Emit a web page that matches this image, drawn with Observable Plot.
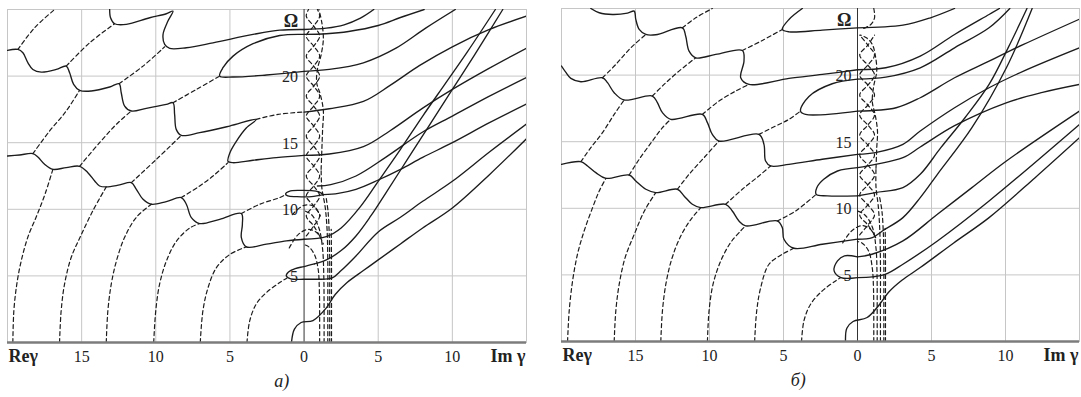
<!DOCTYPE html>
<html><head><meta charset="utf-8">
<script src="https://cdn.jsdelivr.net/npm/d3@7"></script>
<script src="https://cdn.jsdelivr.net/npm/@observablehq/plot@0.6"></script>
<style>
body{margin:0;background:#fff;}
#wrap{display:flex;width:1081px;height:397px;overflow:hidden;}
#wrap svg{display:block;}
#wrap svg text{font-family:"Liberation Serif","DejaVu Serif",serif !important;}
</style></head><body><div id="wrap"></div>
<script>
// ---------- axes ----------
const xGrid = [-15, -10, -5, 5, 10];
const yGrid = [5, 10, 15, 20];
const xTicks = [-15, -10, -5, 0, 5, 10];
const xTickLabels = ["15", "10", "5", "0", "5", "10"];
const yTicks = [5, 10, 15, 20];

// ---------- panel a : solid ----------
const a_stairA = [[-20,14.0],[-19.19,14.08],[-18.29,14.18],[-17.95,13.93],[-17.5,13.38],[-16.94,13.0],[-16.04,13.13],[-15.14,13.23],[-14.58,12.75],[-14.12,12.13],[-13.79,11.75],[-13.34,11.68],[-12.44,11.83],[-11.65,12.0],[-11.31,11.5],[-10.86,10.75],[-10.3,10.38],[-9.29,10.58],[-8.28,10.88],[-7.94,10.38],[-7.6,9.38],[-7.04,8.93],[-5.69,9.25],[-4.23,9.68],[-4.16,8.88],[-4.23,7.88],[-3.89,7.18],[-2.54,7.38],[-1.19,7.63],[0,7.75]];
const a_stair1 = [[-20,21.93],[-19.3,22.0],[-18.96,21.75],[-18.62,21.0],[-18.29,20.5],[-17.72,20.3],[-16.71,20.5],[-16.04,20.75],[-15.81,20.25],[-15.54,19.38],[-15.14,18.93],[-14.35,18.88],[-13.11,19.18],[-12.48,19.43],[-12.33,18.75],[-12.1,17.75],[-11.65,17.38],[-10.64,17.58],[-9.29,17.88],[-8.84,18.0],[-8.73,17.13],[-8.62,16.0],[-8.28,15.55],[-7.04,15.75],[-5.02,16.25],[-3.22,16.75],[-3.9,16.1],[-4.57,15.1],[-5.0,14.25],[-5.13,13.6],[-4.8,13.5],[-3.44,13.68],[-1.87,13.88],[0,14.05]];
const a_stair0 = [[-13.11,25],[-13.05,24.38],[-12.78,23.93],[-11.99,23.88],[-10.41,24.38],[-9.29,24.68],[-8.84,24.88],[-9.18,24.13],[-9.51,23.13],[-9.4,22.38],[-9.06,22.08],[-7.94,22.13],[-6.14,22.5],[-3.44,23.13],[-1.64,23.45],[0,23.5]];
const a_loop20 = [[0,23.13],[-1.64,23.05],[-3.44,22.43],[-4.79,21.5],[-5.47,20.63],[-5.69,20.0],[-4.79,19.93],[-2.54,20.08],[0,20.35]];
const a_loop10 = [[1.3,11.1],[1.0,11.3],[0.5,11.4],[-0.3,11.42],[-1.0,11.35],[-1.25,11.15],[-1.1,11.0],[-0.5,10.95],[0.5,10.95],[1.3,11.1]];
const a_loop5 = [[0.7,5.9],[0,5.7],[-0.6,5.55],[-1.05,5.3],[-1.2,5.0],[-0.9,4.78],[0,4.75],[1.0,4.75]];
const a_R1 = [[0,23.5],[1.5,23.6],[2.7,23.85],[3.8,24.35],[4.7,25]];
const a_R2 = [[0,23.13],[1.5,23.18],[3,23.35],[5,23.8],[6.5,24.4],[8.1,25]];
const a_R3 = [[0,20.35],[1.7,20.5],[4,21.0],[6.2,22.1],[8.2,23.6],[10.2,25]];
const a_R4 = [[0,17.3],[1.7,17.55],[4,18.1],[5.8,19.3],[7.8,20.8],[10,22.2],[12.5,23.5],[15,24.5]];
const a_R5 = [[0,14.05],[1.7,14.15],[4,14.7],[5.8,15.9],[8,17.6],[10,19.0],[12.5,20.6],[15,22.1]];
const a_R6 = [[0.9,11.75],[1.8,11.85],[3.5,12.5],[5.5,13.9],[8,15.8],[10,17.0],[12.5,18.5],[15,19.9]];
const a_R7 = [[1.3,11.1],[2.3,11.2],[3.5,11.5],[5,12.2],[6.5,13.0],[8,13.9],[10,15.0],[12.5,16.5],[15,17.9]];
const a_S1 = [[0,7.75],[1.5,7.95],[2.5,8.6],[3.8,10.2],[5,12.1],[6.5,14.5],[8,17.0],[9.5,19.4],[11,21.8],[12.9,25]];
const a_S2 = [[0.7,5.9],[1.5,6.2],[2.5,6.9],[3.5,8.0],[4.5,9.5],[5.5,11.2],[7,13.8],[8.5,16.4],[10,19.0],[11.5,21.6],[13.4,25]];
const a_R8 = [[1.0,4.75],[1.9,4.85],[2.5,5.4],[3.5,6.5],[5,8.3],[6.5,9.4],[8,10.6],[10,12.1],[12.5,14.3],[15,16.4]];
const a_R9 = [[-0.85,0],[-0.65,1.0],[-0.2,1.5],[0.6,1.65],[1.5,2.6],[2.1,3.6],[2.9,4.5],[4,5.4],[5,6.2],[6.5,7.4],[8,8.6],[10,10.1],[12.5,12.6],[15,15.3]];

// ---------- panel a : dashed ----------
const a_arc1 = [[-19.64,0],[-19.57,2.4],[-19.37,4.4],[-19.08,6.1],[-18.63,7.9],[-18.0,9.6],[-17.45,11.2],[-16.94,13.0]];
const a_arc2 = [[-16.49,0],[-16.38,2.4],[-16.15,4.4],[-15.7,6.4],[-15.02,8.1],[-14.24,9.9],[-13.34,11.68]];
const a_arc3 = [[-13.34,0],[-13.23,2.4],[-13.0,4.4],[-12.66,6.1],[-12.1,7.9],[-11.31,9.4],[-10.3,10.38]];
const a_arc4 = [[-10.14,0],[-10.0,2.4],[-9.74,4.4],[-9.29,6.1],[-8.61,7.6],[-7.71,8.6],[-7.04,8.93]];
const a_arc5 = [[-7.0,0],[-6.82,2.4],[-6.48,4.1],[-5.92,5.6],[-5.02,6.6],[-3.89,7.18]];
const a_arc6 = [[-3.85,0],[-3.67,1.6],[-3.22,2.9],[-2.54,3.75],[-1.64,4.5],[-1.15,4.85]];
const a_mid1 = [[-18.29,14.18],[-17.16,15.88],[-16.04,17.38],[-15.14,18.93]];
const a_mid2 = [[-15.14,13.23],[-13.79,15.0],[-12.66,16.38],[-11.65,17.38]];
const a_mid3 = [[-11.65,12.0],[-9.96,13.75],[-8.28,15.55]];
const a_mid4 = [[-8.28,10.88],[-7.04,11.75],[-6.14,12.5],[-5.13,13.5]];
const a_mid5 = [[-4.23,9.68],[-2.99,10.38],[-1.64,10.88],[-1.25,11.1]];
const a_up0 = [[-19.3,22.0],[-18.17,23.63],[-16.82,25]];
const a_up1 = [[-16.04,20.75],[-14.46,22.5],[-12.78,23.93]];
const a_up2 = [[-12.48,19.43],[-10.86,20.75],[-9.4,22.2]];
const a_up3 = [[-8.84,18.0],[-7.26,19.0],[-5.69,20.0]];
const a_up4 = [[-3.22,16.75],[-1.75,17.13],[0,17.3]];
const a_col1 = [[1.05,0],[1.05,2],[1.03,4],[0.95,5.5],[0.7,6.6],[0.3,7.2],[0,7.35]];
const a_col2 = [[1.35,0],[1.35,2.5],[1.33,5],[1.25,7],[1.0,8.6],[0.5,9.6],[0,9.9]];
const a_col3 = [[1.6,0],[1.6,3],[1.6,6],[1.55,8.5],[1.42,10.2],[1.2,11.6],[1.15,13]];
const a_col4 = [[1.73,0],[1.73,3],[1.73,6],[1.7,8],[1.62,9.8],[1.5,10.8]];
const a_col5 = [[1.85,0],[1.85,3],[1.85,6],[1.83,8.5]];
const a_colB = [[1.15,13],[1.2,14.5],[1.25,16],[1.3,17.4],[1.1,18.6],[0.85,19.5],[0.9,20.5],[1.15,21.6],[1.3,22.8],[1.2,24],[1.0,25]];
const a_wave1 = [[0.15,8],[0.65,8.75],[1.05,9.5],[0.65,10.25],[0.15,11],[0.65,11.75],[1.05,12.5],[0.65,13.25],[0.15,14],[0.65,14.75],[1.05,15.5],[0.65,16.25],[0.15,17],[0.65,17.75],[1.05,18.5],[0.65,19.25],[0.15,20],[0.65,20.75],[1.05,21.5],[0.65,22.25],[0.15,23],[0.65,23.75],[1.05,24.5],[0.9,25]];
const a_wave2 = [[1.05,8],[0.65,8.75],[0.15,9.5],[0.65,10.25],[1.05,11],[0.65,11.75],[0.15,12.5],[0.65,13.25],[1.05,14],[0.65,14.75],[0.15,15.5],[0.65,16.25],[1.05,17],[0.65,17.75],[0.15,18.5],[0.65,19.25],[1.05,20],[0.65,20.75],[0.15,21.5],[0.65,22.25],[1.05,23],[0.65,23.75],[0.15,24.5],[0.3,25]];
const a_sm1 = [[-1.0,7.1],[-0.4,8.1],[0.3,8.5],[0.9,8.2],[1.3,7.4]];
const a_sm2 = [[-0.8,9.6],[0,10.3],[0.7,10.2],[1.1,9.5]];

// ---------- panel b : solid ----------
const b_stair0 = [[-18.02,25],[-17.45,24.68],[-16.55,24.55],[-15.54,24.65],[-15.09,24.8],[-14.98,24.18],[-14.75,23.43],[-14.3,23.05],[-13.63,23.03],[-11.83,23.55],[-11.61,22.93],[-11.38,21.8],[-10.93,21.3],[-9.58,21.55],[-7.78,21.85],[-7.67,21.05],[-7.89,19.8],[-7.33,19.3],[-4.63,19.75],[-2.38,20.05],[0,20.4]];
const b_stair1 = [[-20,20.68],[-19.69,20.18],[-19.37,19.75],[-18.69,19.5],[-17.23,19.8],[-16.89,19.43],[-16.44,18.68],[-15.77,18.13],[-13.86,18.43],[-13.52,17.93],[-13.18,17.18],[-12.62,16.68],[-10.48,17.05],[-10.14,16.43],[-9.81,15.55],[-9.36,15.05],[-6.66,15.55],[-6.32,14.8],[-6.21,13.55],[-5.87,13.18],[-4.63,13.3],[-2.38,13.68],[0,14.05]];
const b_stair2 = [[-20,13.3],[-18.69,13.5],[-18.24,13.18],[-17.68,12.68],[-17.0,12.25],[-15.43,12.5],[-14.98,12.05],[-14.3,11.43],[-13.63,11.18],[-12.17,11.43],[-11.72,10.93],[-11.16,10.3],[-10.59,10.05],[-8.91,10.3],[-8.46,9.8],[-8.01,9.05],[-7.56,8.68],[-5.42,9.05],[-5.08,8.55],[-4.97,7.68],[-4.3,7.0],[-2.38,7.3],[0,7.68]];
const b_loop23 = [[-3.73,25],[-4.63,24.18],[-5.08,23.43],[-4.63,23.25],[-2.38,23.38],[0,23.55]];
const b_loop17 = [[0,19.7],[-1.71,19.35],[-3.28,18.4],[-3.85,17.3],[-3.51,17.05],[0,17.3]];
const b_loop12 = [[0,13.05],[-1.35,12.8],[-2.28,12.18],[-2.75,11.55],[-2.79,11.05],[-2.05,10.93],[0,10.93]];
const b_loop5 = [[0,6.35],[-0.88,6.43],[-1.35,6.05],[-1.58,5.3],[-1.12,4.8],[0,4.8]];
const b_P1 = [[0,23.55],[3.07,23.75],[4.93,24.3],[6.56,25]];
const b_P2 = [[0,20.4],[1.91,20.55],[4.24,21.43],[6.56,23.05],[8.89,24.55],[9.59,25]];
const b_P3 = [[0,19.7],[1.91,19.85],[4.24,20.55],[6.56,22.05],[8.89,23.55],[10.29,25]];
const b_P4 = [[0,17.3],[2.61,17.55],[4.24,18.3],[6.56,19.8],[8.89,21.05],[11.22,22.3],[15,24.2]];
const b_P5 = [[0,14.05],[1.21,14.18],[3.07,14.8],[4.24,15.8],[6.56,17.55],[8.89,19.05],[11.22,20.3],[15,22.05]];
const b_P6 = [[0,13.05],[1.21,13.3],[3.07,13.8],[4.24,14.6],[6.56,16.2],[10,17.9],[12.5,18.7],[15,19.3]];
const b_Q1 = [[0,10.93],[1.21,11.18],[3.07,11.55],[4.24,12.55],[5.63,14.55],[7.26,16.8],[8.89,19.3],[10.2,22.1],[11.45,25]];
const b_Q2 = [[0,7.68],[1.0,7.8],[1.68,8.3],[3.07,9.3],[4.24,10.8],[5.4,12.55],[7.73,16.05],[10.06,20.55],[11.8,25]];
const b_P7 = [[0,6.35],[0.98,6.55],[3.07,7.55],[5.4,9.55],[7.73,11.55],[10.06,13.55],[15,17.3]];
const b_P8 = [[0,4.8],[1.0,4.85],[1.91,5.05],[3.07,5.8],[5.4,7.55],[8.89,10.55],[15,16.3]];
const b_P9 = [[-0.81,0],[-0.72,1.0],[-0.3,1.5],[0.65,1.8],[1.5,2.8],[2.1,3.7],[3,4.6],[4.24,5.55],[6.5,7.4],[8.89,9.3],[12,12.3],[15,15.3]];

// ---------- panel b : dashed ----------
const b_arc1 = [[-19.59,0],[-19.48,2.3],[-19.25,4.55],[-18.92,6.55],[-18.47,8.3],[-17.9,10.05],[-17.45,11.3],[-17.0,12.25]];
const b_arc2 = [[-16.44,0],[-16.33,2.3],[-16.1,4.3],[-15.7,6.3],[-15.1,8.0],[-14.4,9.8],[-13.63,11.18]];
const b_arc3 = [[-13.29,0],[-13.18,2.3],[-12.95,4.3],[-12.55,6.2],[-11.95,7.9],[-11.3,9.1],[-10.59,10.05]];
const b_arc4 = [[-10.14,0],[-10.03,2.3],[-9.76,4.3],[-9.24,6.05],[-8.57,7.43],[-7.9,8.3],[-7.56,8.68]];
const b_arc5 = [[-6.95,0],[-6.81,2.3],[-6.54,4.05],[-5.98,5.8],[-5.08,6.55],[-4.3,7.0]];
const b_arc6 = [[-3.78,0],[-3.62,1.55],[-3.17,2.8],[-2.38,3.8],[-1.48,4.55],[-1.12,4.8]];
const b_mid1 = [[-18.69,13.5],[-18.02,14.55],[-17.23,15.68],[-16.44,17.05],[-15.77,18.13]];
const b_mid2 = [[-15.43,12.5],[-14.75,13.68],[-13.86,15.05],[-13.18,16.05],[-12.62,16.68]];
const b_mid3 = [[-12.17,11.43],[-11.38,12.55],[-10.37,13.8],[-9.36,15.05]];
const b_mid4 = [[-8.91,10.3],[-7.78,11.43],[-6.66,12.43],[-5.87,13.18]];
const b_mid5 = [[-5.42,9.05],[-4.18,9.8],[-2.79,11.05]];
const b_up1 = [[-17.23,19.8],[-16.33,20.8],[-15.32,22.05],[-14.3,23.05]];
const b_up2 = [[-13.86,18.43],[-13.07,19.3],[-12.06,20.3],[-10.93,21.3]];
const b_up3 = [[-10.48,17.05],[-9.36,18.05],[-8.23,18.8],[-7.33,19.3]];
const b_up4 = [[-6.66,15.55],[-5.53,16.18],[-4.63,16.68],[-3.85,17.3]];
const b_top1 = [[-11.83,23.55],[-10.93,24.3],[-9.81,25]];
const b_top2 = [[-7.78,21.85],[-6.43,22.6],[-5.08,23.43]];
const b_col1 = [[1.1,0],[1.1,2],[1.08,4],[1.0,5.5],[0.75,6.8],[0.3,7.4],[0,7.5]];
const b_col2 = [[1.33,0],[1.33,2.5],[1.32,5],[1.25,7],[1.0,8.6],[0.5,9.5],[0,9.8]];
const b_col3 = [[1.55,0],[1.55,3],[1.55,6],[1.5,8.5],[1.4,10.2],[1.25,11.6],[1.25,13]];
const b_col4 = [[1.78,0],[1.78,3],[1.78,6],[1.75,8],[1.65,9.8],[1.5,10.8]];
const b_col5 = [[1.89,0],[1.89,3],[1.89,6],[1.87,8.5]];
const b_colB = [[1.25,13],[1.3,14.5],[1.35,15.8],[1.2,17],[1.0,18],[1.1,19.2],[1.3,20.3],[1.2,21.5],[1.0,22.3],[0.6,22.8],[0.2,23.0]];
const b_colTop = [[1.1,25],[1.15,24.3],[0.9,23.8],[0.4,23.5]];
const b_wave1 = [[0.15,8],[0.7,8.75],[1.15,9.5],[0.7,10.25],[0.15,11],[0.7,11.75],[1.15,12.5],[0.7,13.25],[0.15,14],[0.7,14.75],[1.15,15.5],[0.7,16.25],[0.15,17],[0.7,17.75],[1.15,18.5],[0.7,19.25],[0.15,20],[0.7,20.75],[1.15,21.5],[0.7,22.25],[0.15,23]];
const b_wave2 = [[1.15,8],[0.7,8.75],[0.15,9.5],[0.7,10.25],[1.15,11],[0.7,11.75],[0.15,12.5],[0.7,13.25],[1.15,14],[0.7,14.75],[0.15,15.5],[0.7,16.25],[1.15,17],[0.7,17.75],[0.15,18.5],[0.7,19.25],[1.15,20],[0.7,20.75],[0.15,21.5],[0.7,22.25],[1.15,23]];
const b_sm1 = [[-1.0,7.4],[-0.4,8.3],[0.3,8.7],[0.9,8.4],[1.3,7.6]];

// ---------- build ----------
function rows(curves) {
  const out = [];
  curves.forEach((c, i) => c.forEach(([x, y]) => out.push({id: i, x, y})));
  return out;
}
const INK = "#1c1c1c";
const SERIF = "Liberation Serif";
function panel(cfg) {
  return Plot.plot({
    width: cfg.width, height: 397,
    marginLeft: cfg.ml, marginRight: cfg.mr, marginTop: cfg.mt, marginBottom: cfg.mb,
    x: {domain: [-20, 15], axis: null},
    y: {domain: [0, 25], axis: null},
    style: {fontFamily: SERIF, color: "#222", background: "#fff", overflow: "visible"},
    marks: [
      Plot.ruleX(xGrid, {stroke: "#c6c6c6", strokeWidth: 1}),
      Plot.ruleY(yGrid, {stroke: "#c6c6c6", strokeWidth: 1}),
      Plot.frame({stroke: "#c6c6c6"}),
      Plot.ruleX([0], {stroke: "#333", strokeWidth: 1}),
      Plot.line(rows(cfg.dashed), {x: "x", y: "y", z: "id", curve: "catmull-rom", stroke: INK, strokeWidth: 1.2, strokeDasharray: "4,3", clip: true}),
      Plot.line(rows(cfg.solid), {x: "x", y: "y", z: "id", curve: "catmull-rom", stroke: INK, strokeWidth: 1.35, clip: true}),
      Plot.ruleY([0], {stroke: "#7c7c7c", strokeWidth: 2.5}),
      Plot.text(xTicks, {x: d => d, y: 0, dy: 14, text: (d, i) => xTickLabels[i], fontSize: 16, fontFamily: SERIF}),
      Plot.text(["Reγ"], {x: -20, y: 0, dy: 14, dx: 1, textAnchor: "start", fontWeight: "bold", fontSize: 18, fontFamily: SERIF}),
      Plot.text(["Im γ"], {x: 15, y: 0, dy: 14, dx: -1, textAnchor: "end", fontWeight: "bold", fontSize: 18, fontFamily: SERIF}),
      Plot.text(yTicks, {x: 0, y: d => d, dx: -6, dy: 1, text: d => String(d), textAnchor: "end", fontSize: 16, fontFamily: SERIF}),
      Plot.text(["Ω"], {x: 0, y: 25, dx: -6, dy: 12, textAnchor: "end", fontWeight: "bold", fontSize: 18, fontFamily: SERIF}),
      Plot.text([cfg.caption], {x: cfg.capX, y: 0, dy: 39, fontStyle: "italic", fontSize: 18, fontFamily: SERIF})
    ]
  });
}

const wrap = document.getElementById("wrap");
wrap.appendChild(panel({
  width: 540, ml: 7, mr: 14, mt: 9, mb: 55, caption: "а)", capX: -1.5,
  solid: [a_stairA, a_stair1, a_stair0, a_loop20, a_loop10, a_loop5, a_R1, a_R2, a_R3, a_R4, a_R5, a_R6, a_R7, a_S1, a_S2, a_R8, a_R9],
  dashed: [a_arc1, a_arc2, a_arc3, a_arc4, a_arc5, a_arc6, a_mid1, a_mid2, a_mid3, a_mid4, a_mid5, a_up0, a_up1, a_up2, a_up3, a_up4, a_col1, a_col2, a_col3, a_col4, a_col5, a_colB, a_wave1, a_wave2, a_sm1, a_sm2]
}));
wrap.appendChild(panel({
  width: 541, ml: 21, mr: 2, mt: 8, mb: 56, caption: "б)", capX: -4,
  solid: [b_stair0, b_stair1, b_stair2, b_loop23, b_loop17, b_loop12, b_loop5, b_P1, b_P2, b_P3, b_P4, b_P5, b_P6, b_Q1, b_Q2, b_P7, b_P8, b_P9],
  dashed: [b_arc1, b_arc2, b_arc3, b_arc4, b_arc5, b_arc6, b_mid1, b_mid2, b_mid3, b_mid4, b_mid5, b_up1, b_up2, b_up3, b_up4, b_top1, b_top2, b_col1, b_col2, b_col3, b_col4, b_col5, b_colB, b_colTop, b_wave1, b_wave2, b_sm1]
}));
</script></body></html>
